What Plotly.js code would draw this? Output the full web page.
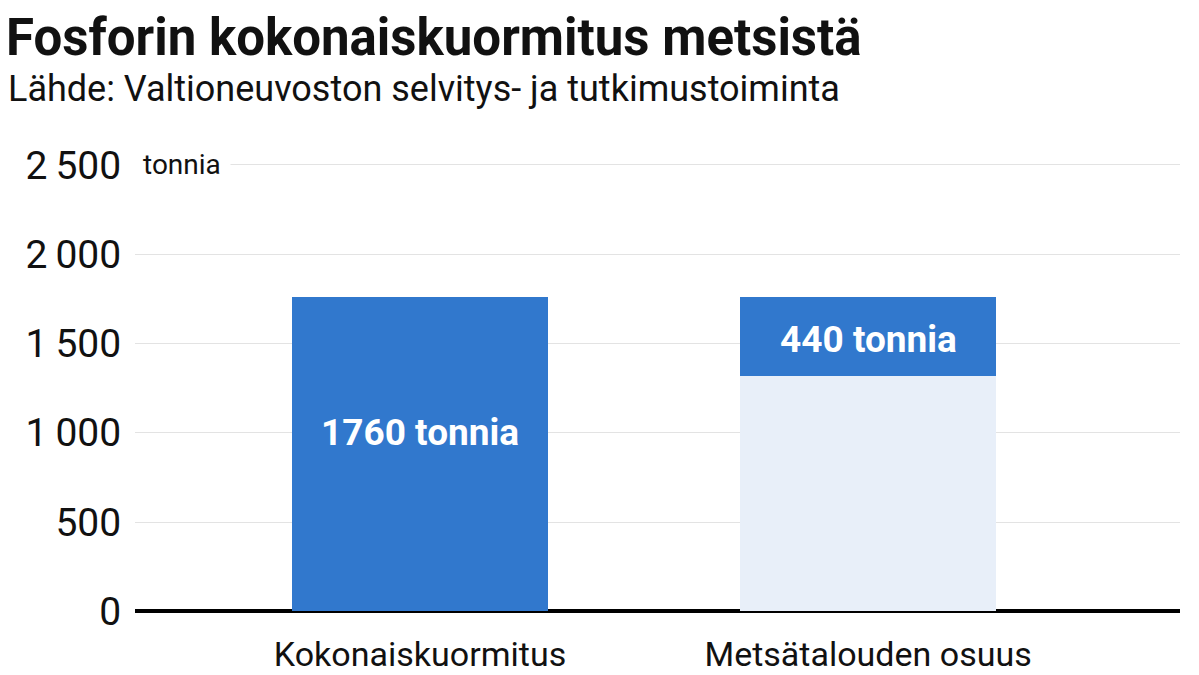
<!DOCTYPE html>
<html>
<head>
<meta charset="utf-8">
<script src="https://cdn.plot.ly/plotly-3.0.1.min.js"></script>
<style>
  html, body { margin: 0; padding: 0; background: #ffffff; }
  #chart { width: 1199px; height: 675px; }
</style>
</head>
<body>
<div id="chart"></div>
<script>
// Data
const categories = ["Kokonaiskuormitus", "Metsätalouden osuus"];
const restValues = [0, 1320];             // light part (rest of total)
const highlightValues = [1760, 440];      // dark highlighted part
const barLabels = ["1760 tonnia", "440 tonnia"];
const labelShifts = [22, -3];             // px offset of label from segment centre
const yTickVals = [0, 500, 1000, 1500, 2000, 2500];
const yTickText = ["0", "500", "1\u2009000", "1\u2009500", "2\u2009000", "2\u2009500"];
const titleText = "Fosforin kokonaiskuormitus metsistä";
const subtitleText = "Lähde: Valtioneuvoston selvitys- ja tutkimustoiminta";
const unitText = "tonnia";

const FONT = "Roboto, 'Noto Sans', sans-serif";
const DARK = "#3178cd";
const LIGHT = "#e8eff9";

const traces = [
  {
    type: "bar",
    x: categories,
    y: restValues,
    marker: { color: LIGHT },
    width: 0.57,
    hoverinfo: "skip",
    showlegend: false
  },
  {
    type: "bar",
    x: categories,
    y: highlightValues,
    marker: { color: DARK },
    width: 0.57,
    hoverinfo: "skip",
    showlegend: false
  }
];

const labelAnnotations = categories.map((c, i) => ({
  text: "<b>" + barLabels[i] + "</b>",
  xref: "x",
  yref: "y",
  x: c,
  y: restValues[i] + highlightValues[i] / 2,
  yshift: labelShifts[i],
  xanchor: "center",
  yanchor: "middle",
  showarrow: false,
  font: { family: FONT, size: 37, color: "#ffffff" }
}));

const layout = {
  width: 1199,
  height: 675,
  paper_bgcolor: "#ffffff",
  plot_bgcolor: "#ffffff",
  barmode: "stack",
  margin: { l: 135, r: 19, t: 147, b: 61 },
  font: { family: FONT, color: "#111111" },
  title: {
    text: "<b>" + titleText + "</b>",
    font: { family: FONT, size: 51, color: "#111111" },
    x: 6 / 1199,
    xanchor: "left",
    xref: "container",
    y: 1 - 37 / 675,
    yanchor: "middle",
    yref: "container"
  },
  xaxis: {
    type: "category",
    range: [-0.636, 1.696],
    showgrid: false,
    zeroline: false,
    showline: false,
    ticks: "outside",
    ticklen: 10,
    tickcolor: "rgba(0,0,0,0)",
    tickfont: { family: FONT, size: 34, color: "#111111" },
    fixedrange: true
  },
  yaxis: {
    range: [-15, 2600],
    tickvals: yTickVals,
    ticktext: yTickText,
    showgrid: true,
    gridcolor: "#e3e3e3",
    gridwidth: 1,
    zeroline: true,
    zerolinecolor: "#000000",
    zerolinewidth: 4,
    showline: false,
    ticks: "outside",
    ticklen: 5,
    tickcolor: "rgba(0,0,0,0)",
    tickfont: { family: FONT, size: 39, color: "#111111" },
    fixedrange: true
  },
  annotations: [
    {
      text: subtitleText,
      xref: "paper",
      yref: "paper",
      x: (6 - 135) / 1045,
      xanchor: "left",
      y: (613.7 - 89) / 466.5,
      yanchor: "middle",
      showarrow: false,
      font: { family: FONT, size: 36, color: "#111111" }
    },
    {
      text: unitText,
      xref: "paper",
      yref: "y",
      x: -0.002,
      xanchor: "left",
      y: 2500,
      yanchor: "middle",
      showarrow: false,
      bgcolor: "#ffffff",
      borderpad: 9,
      font: { family: FONT, size: 28, color: "#111111" }
    }
  ].concat(labelAnnotations)
};

Plotly.newPlot("chart", traces, layout, { displayModeBar: false, staticPlot: true });
</script>
</body>
</html>
